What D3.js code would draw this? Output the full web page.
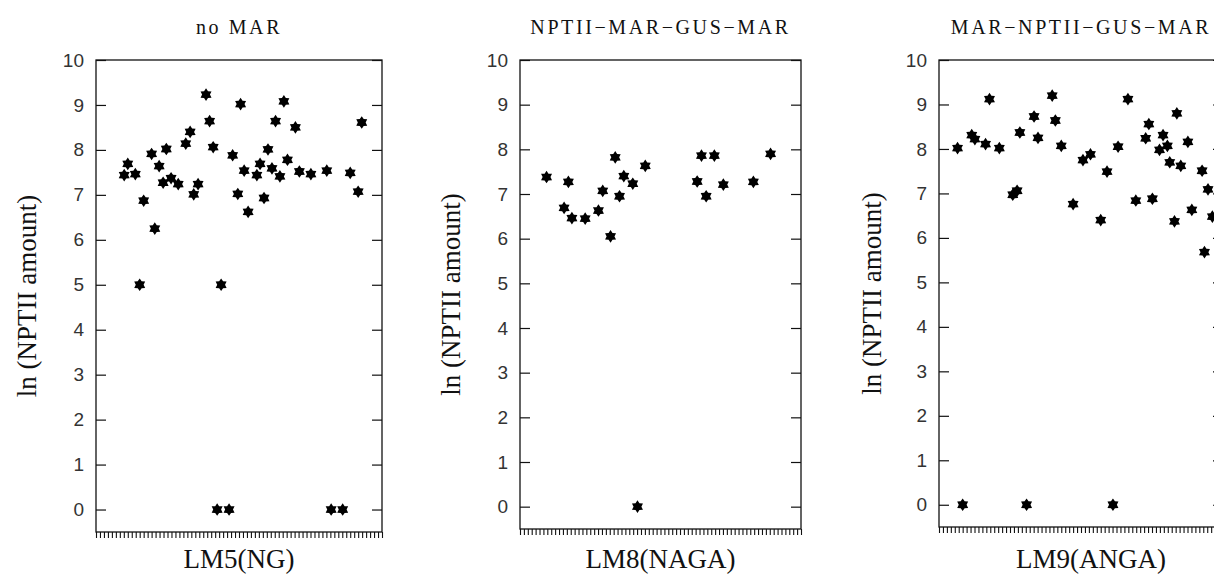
<!DOCTYPE html>
<html>
<head>
<meta charset="utf-8">
<script src="https://cdn.jsdelivr.net/npm/d3@7"></script>
<style>
  body { margin: 0; background: #fff; }
  svg { display: block; }
  .naslov { font-family: "Liberation Serif", serif; font-size: 20px; letter-spacing: 2.6px; fill: #111; }
  .os-oznaka { font-family: "Liberation Serif", serif; font-size: 27px; fill: #111; }
  .y-os text { font-family: "Liberation Sans", sans-serif; font-size: 19px; fill: #333; }
</style>
</head>
<body>
<div id="okvir"></div>
<script>
// podaci ocitani sa slike (x = redni broj biljke, y = ln kolicine NPTII)
const naslovi = ["no MAR", "NPTII\u2212MAR\u2212GUS\u2212MAR", "MAR\u2212NPTII\u2212GUS\u2212MAR"]
const xOznake = ["LM5(NG)", "LM8(NAGA)", "LM9(ANGA)"]
const yOznaka = "ln (NPTII amount)"
const yTickovi = [0, 1, 2, 3, 4, 5, 6, 7, 8, 9, 10]

const lm5X = [7.1, 8.0, 9.9, 11.0, 12.0, 14.0, 14.8, 15.9, 16.9, 17.7, 18.9, 20.7, 22.6, 23.7, 24.6,
  25.7, 27.7, 28.6, 29.5, 30.5, 31.5, 33.5, 34.4, 35.7, 36.4, 37.3, 38.3, 40.5, 41.3, 42.3,
  43.3, 44.3, 45.2, 46.3, 47.3, 48.2, 50.2, 51.2, 54.1, 58.1, 59.2, 62.1, 64.0, 66.0, 66.9]
const lm5Y = [7.44, 7.69, 7.46, 5.0, 6.87, 7.91, 6.25, 7.64, 7.27, 8.02, 7.37, 7.24, 8.14, 8.40, 7.01,
  7.24, 9.23, 8.64, 8.06, 0, 5.0, 0, 7.88, 7.02, 9.02, 7.54, 6.62, 7.44, 7.69, 6.93,
  8.01, 7.59, 8.64, 7.41, 9.08, 7.78, 8.50, 7.52, 7.46, 7.54, 0, 0, 7.49, 7.07, 8.61]

const lm8X = [6.8, 11.3, 12.4, 13.3, 16.7, 20.1, 21.2, 23.2, 24.4, 25.5, 26.6, 28.9, 30.1, 32.1,
  45.4, 46.5, 47.7, 49.8, 52.1, 59.8, 64.2]
const lm8Y = [7.38, 6.69, 7.27, 6.46, 6.45, 6.63, 7.07, 6.05, 7.82, 6.95, 7.40, 7.23, 0, 7.63,
  7.28, 7.86, 6.95, 7.86, 7.21, 7.27, 7.90]

const lm9X = [4.7, 6.0, 8.3, 9.1, 11.8, 12.8, 15.3, 18.7, 19.8, 20.5, 22.2, 24.1, 25.1, 28.7,
  29.5, 31.0, 34.0, 36.5, 38.4, 41.0, 42.6, 44.1, 45.4, 47.9, 49.9, 52.4, 53.2, 54.1, 55.9,
  56.8, 57.9, 58.5, 59.7, 60.3, 61.3, 63.1, 64.1, 66.7, 67.3, 68.2, 69.3]
const lm9Y = [8.02, 0, 8.31, 8.22, 8.11, 9.12, 8.02, 6.97, 7.06, 8.37, 0, 8.73, 8.25, 9.20,
  8.64, 8.07, 6.76, 7.75, 7.88, 6.40, 7.49, 0, 8.05, 9.12, 6.84, 8.24, 8.56, 6.88, 7.98,
  8.31, 8.07, 7.70, 6.37, 8.80, 7.62, 8.16, 6.63, 7.51, 5.68, 7.09, 6.48]

const serije = [[lm5X, lm5Y], [lm8X, lm8Y], [lm9X, lm9Y]]

// 1. Dimenzije

const dimenzije = { sirina: 1214, visina: 576 }
const paneli = [
  { lijevo: 96, desno: 382, gore: 60, dolje: 532, oznakaX: 26 },
  { lijevo: 520, desno: 801, gore: 60, dolje: 529, oznakaX: 450 },
  { lijevo: 939, desno: 1223, gore: 60, dolje: 527, oznakaX: 871 },
]

const okvir = d3.select("#okvir")
  .append("svg")
    .attr("width", dimenzije.sirina)
    .attr("height", dimenzije.visina)

// sestokraka zvjezdica kao simbol
const zvijezda = {
  draw(ctx, size) {
    const r = Math.sqrt(size)
    const ri = r * 0.62
    for (let i = 0; i < 12; i++) {
      const a = -Math.PI / 2 + i * Math.PI / 6
      const rr = i % 2 === 0 ? r : ri
      if (i === 0) ctx.moveTo(rr * Math.cos(a), rr * Math.sin(a))
      else ctx.lineTo(rr * Math.cos(a), rr * Math.sin(a))
    }
    ctx.closePath()
  }
}
const generatorSimbola = d3.symbol().type(zvijezda).size(40)

paneli.forEach((p, i) => {
  const sirina = p.desno - p.lijevo
  const visina = p.dolje - p.gore

  const xSkala = d3.scaleLinear().domain([0, 72]).range([0, sirina])
  const ySkala = d3.scaleLinear().domain([-0.5, 10]).range([visina, 0])

  const granice = okvir.append("g")
      .attr("transform", `translate(${p.lijevo},${p.gore})`)

  // okvir grafa
  granice.append("rect")
      .attr("width", sirina)
      .attr("height", visina)
      .attr("fill", "none")
      .attr("stroke", "#111")
      .attr("stroke-width", 1.3)

  // lijeva os
  const yOs = granice.append("g")
      .attr("class", "y-os")
    .call(d3.axisLeft(ySkala).tickValues(yTickovi).tickSize(-10).tickPadding(12))
  yOs.select(".domain").remove()
  yOs.selectAll("line").attr("stroke", "#111").attr("stroke-width", 1.2)

  // desna os, samo crtice
  const yOsDesno = granice.append("g")
      .attr("transform", `translate(${sirina},0)`)
    .call(d3.axisRight(ySkala).tickValues(yTickovi).tickSize(-10).tickFormat(""))
  yOsDesno.select(".domain").remove()
  yOsDesno.selectAll("line").attr("stroke", "#111").attr("stroke-width", 1.2)

  // donja os s gustim crticama
  const xOs = granice.append("g")
      .attr("transform", `translate(0,${visina})`)
    .call(d3.axisBottom(xSkala).tickValues(d3.range(0, 73)).tickSize(6).tickFormat(""))
  xOs.select(".domain").remove()
  xOs.selectAll("line").attr("stroke", "#111").attr("stroke-width", 1.1)

  // podaci
  const [xs, ys] = serije[i]
  granice.append("g")
    .selectAll("path")
    .data(xs.map((x, j) => [x, ys[j]]))
    .join("path")
      .attr("d", generatorSimbola)
      .attr("transform", d => `translate(${xSkala(d[0])},${ySkala(d[1])})`)
      .attr("fill", "#000")

  // naslov
  okvir.append("text")
      .attr("class", "naslov")
      .attr("x", p.lijevo + sirina / 2)
      .attr("y", 34)
      .attr("text-anchor", "middle")
      .text(naslovi[i])

  // oznaka x osi
  okvir.append("text")
      .attr("class", "os-oznaka")
      .attr("x", p.lijevo + sirina / 2 + (i === 2 ? 10 : 0))
      .attr("y", 568)
      .attr("text-anchor", "middle")
      .text(xOznake[i])

  // oznaka y osi
  okvir.append("text")
      .attr("class", "os-oznaka")
      .attr("transform", `translate(${p.oznakaX + 10},${p.gore + visina / 2}) rotate(-90)`)
      .attr("text-anchor", "middle")
      .text(yOznaka)
})
</script>
</body>
</html>
